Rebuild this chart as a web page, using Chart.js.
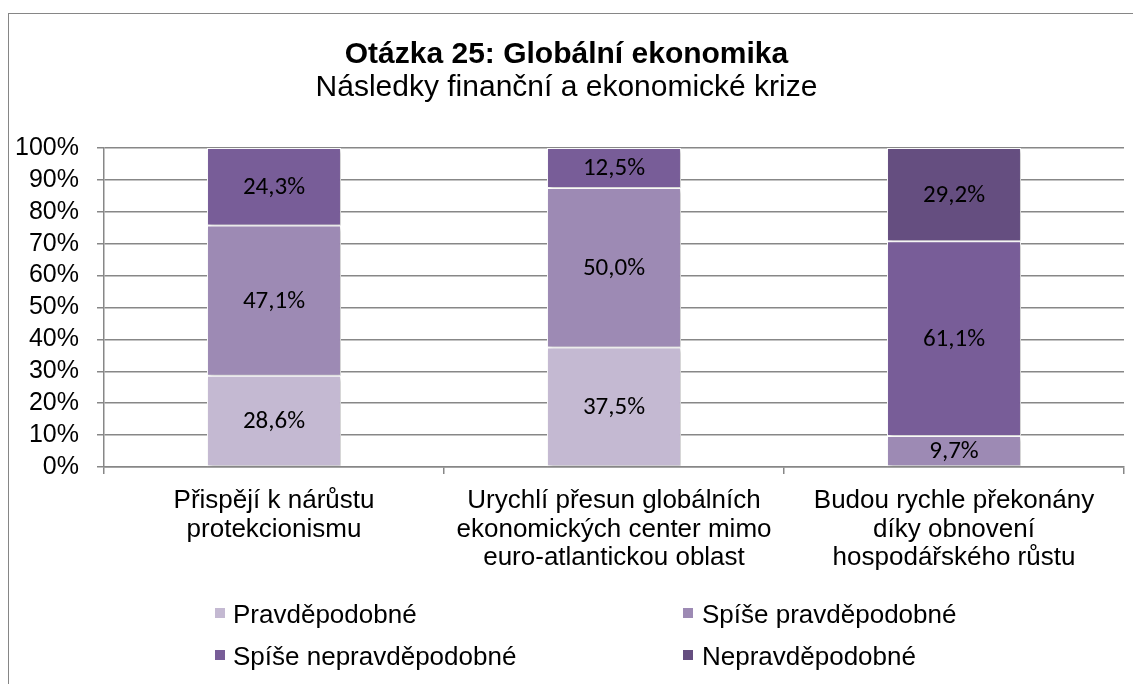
<!DOCTYPE html>
<html>
<head>
<meta charset="utf-8">
<script src="https://cdn.jsdelivr.net/npm/chart.js@4"></script>
<style>
  body { margin: 0; background: #fff; }
  #wrap { position: relative; width: 1133px; height: 684px; overflow: hidden; }
  #frame { position: absolute; left: 8px; top: 13px; width: 1200px; height: 800px;
           border-left: 1px solid #868686; border-top: 1px solid #868686; }
  #chart { position: absolute; left: 0; top: 0; }
  .leg { position: absolute; font: 26px Arial, "Liberation Sans", sans-serif; color: #000;
         line-height: 30px; white-space: nowrap; }
  .legbox { position: absolute; width: 10px; height: 10px; }
</style>
</head>
<body>
<div id="wrap">
  <div id="frame"></div>
  <canvas id="chart" width="1133" height="684"></canvas>
  <div id="legend"></div>
</div>
<script>
// categories (x axis labels, split into lines)
const categories = [
  ["Přispějí k nárůstu", "protekcionismu"],
  ["Urychlí přesun globálních", "ekonomických center mimo", "euro-atlantickou oblast"],
  ["Budou rychle překonány", "díky obnovení", "hospodářského růstu"]
];

// series (percent)
const seriesNames = ["Pravděpodobné", "Spíše pravděpodobné", "Spíše nepravděpodobné", "Nepravděpodobné"];
const pravdepodobne = [28.6, 37.5, null];
const spisePravdepodobne = [47.1, 50.0, 9.7];
const spiseNepravdepodobne = [24.3, 12.5, 61.1];
const nepravdepodobne = [null, null, 29.2];
const seriesColors = ["#c4b9d2", "#9d8ab4", "#785d98", "#654e80"];

// y axis
const yMin = 0;
const yMax = 100;
const yStep = 10;

const seriesValues = [pravdepodobne, spisePravdepodobne, spiseNepravdepodobne, nepravdepodobne];

const axisColor = "#878787";

// soft shadow behind the bars
const barShadow = {
  id: "barShadow",
  beforeDatasetsDraw(chart) {
    const ctx = chart.ctx;
    ctx.save();
    ctx.shadowColor = "rgba(0,0,0,0.22)";
    ctx.shadowBlur = 4;
    ctx.shadowOffsetX = 2;
    ctx.shadowOffsetY = 2;
  },
  afterDatasetsDraw(chart) {
    chart.ctx.restore();
  }
};

// value labels in the middle of each segment
const segmentLabels = {
  id: "segmentLabels",
  afterDatasetsDraw(chart) {
    const ctx = chart.ctx;
    ctx.save();
    ctx.font = '25px Carlito, Calibri, Lato, sans-serif';
    ctx.fillStyle = "#000";
    ctx.textAlign = "center";
    ctx.textBaseline = "middle";
    chart.data.datasets.forEach((ds, i) => {
      const meta = chart.getDatasetMeta(i);
      meta.data.forEach((bar, j) => {
        const v = ds.data[j];
        if (v == null || v <= 0) return;
        const text = v.toFixed(1).replace(".", ",") + "%";
        ctx.fillText(text, bar.x, (bar.y + bar.base) / 2 + 1);
      });
    });
    ctx.restore();
  }
};

const ctx = document.getElementById("chart").getContext("2d");
new Chart(ctx, {
  type: "bar",
  data: {
    labels: categories,
    datasets: seriesNames.map((name, i) => ({
      label: name,
      data: seriesValues[i],
      backgroundColor: seriesColors[i],
      borderColor: "#ffffff",
      borderWidth: 1,
      borderSkipped: false,
      categoryPercentage: 1.0,
      barPercentage: 0.394
    }))
  },
  options: {
    responsive: false,
    animation: false,
    devicePixelRatio: 1,
    layout: { padding: { top: 0, left: 9, right: 9, bottom: 0 } },
    plugins: {
      legend: { display: false },
      tooltip: { enabled: false },
      title: {
        display: true,
        text: "Otázka 25: Globální ekonomika",
        color: "#000",
        font: { family: "Arial, 'Liberation Sans', sans-serif", size: 30, weight: "bold", lineHeight: 1.1 },
        padding: { top: 38, bottom: 0.5 }
      },
      subtitle: {
        display: true,
        text: "Následky finanční a ekonomické krize",
        color: "#000",
        font: { family: "Arial, 'Liberation Sans', sans-serif", size: 30, weight: "normal", lineHeight: 1.1 },
        padding: { top: 0, bottom: 43.5 }
      }
    },
    scales: {
      x: {
        stacked: true,
        grid: { display: true, drawOnChartArea: false, drawTicks: true, tickLength: 7, color: axisColor, offset: true, lineWidth: 1.5 },
        border: { display: true, color: axisColor, width: 1.5 },
        ticks: {
          color: "#000",
          padding: 13,
          maxRotation: 0,
          autoSkip: false,
          font: { family: "Arial, 'Liberation Sans', sans-serif", size: 26, lineHeight: 1.096 }
        },
        afterFit(scale) { scale.height = 217; }
      },
      y: {
        stacked: true,
        min: yMin,
        max: yMax,
        grid: { color: axisColor, tickLength: 7, lineWidth: 1.5 },
        border: { display: true, color: axisColor, width: 1.5 },
        ticks: {
          stepSize: yStep,
          autoSkip: false,
          color: "#000",
          padding: 18,
          font: { family: "Arial, 'Liberation Sans', sans-serif", size: 25 },
          callback: (v) => v + "%"
        },
        afterFit(scale) { scale.width = 95; }
      }
    }
  },
  plugins: [barShadow, segmentLabels]
});

// legend in two columns
const legendDiv = document.getElementById("legend");
const colLeft = [215, 683];
const textLeft = [233, 702];
const rowTop = [599, 641];
seriesNames.forEach((name, i) => {
  const col = i % 2, row = Math.floor(i / 2);
  const box = document.createElement("div");
  box.className = "legbox";
  box.style.left = colLeft[col] + "px";
  box.style.top = (rowTop[row] + 9) + "px";
  box.style.background = seriesColors[i];
  legendDiv.appendChild(box);
  const txt = document.createElement("div");
  txt.className = "leg";
  txt.style.left = textLeft[col] + "px";
  txt.style.top = rowTop[row] + "px";
  txt.textContent = name;
  legendDiv.appendChild(txt);
});
</script>
</body>
</html>
